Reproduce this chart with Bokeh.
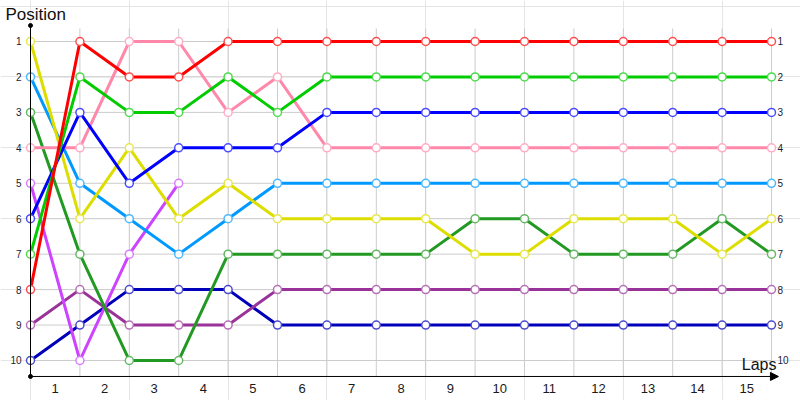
from bokeh.plotting import figure
from bokeh.models import Range1d, FixedTicker, LinearAxis, Label, Arrow, NormalHead
from bokeh.embed import file_html
from bokeh.resources import INLINE

# ---- data ----
laps = list(range(16))                      # 0 = start, 1..15 laps
lap_ticks = laps[1:]                        # tick labels "1".."15" (centred in each lap)
positions = list(range(1, 11))

red = [8, 1, 2, 2, 1, 1, 1, 1, 1, 1, 1, 1, 1, 1, 1, 1]
green = [7, 2, 3, 3, 2, 3, 2, 2, 2, 2, 2, 2, 2, 2, 2, 2]
blue = [6, 3, 5, 4, 4, 4, 3, 3, 3, 3, 3, 3, 3, 3, 3, 3]
pink = [4, 4, 1, 1, 3, 2, 4, 4, 4, 4, 4, 4, 4, 4, 4, 4]
light_blue = [2, 5, 6, 7, 6, 5, 5, 5, 5, 5, 5, 5, 5, 5, 5, 5]
yellow = [1, 6, 4, 6, 5, 6, 6, 6, 6, 7, 7, 6, 6, 6, 7, 6]
dark_green = [3, 7, 10, 10, 7, 7, 7, 7, 7, 6, 6, 7, 7, 7, 6, 7]
violet = [5, 10, 7, 5]
purple = [9, 8, 9, 9, 9, 8, 8, 8, 8, 8, 8, 8, 8, 8, 8, 8]
navy = [10, 9, 8, 8, 8, 9, 9, 9, 9, 9, 9, 9, 9, 9, 9, 9]

series = [
    (navy, "#0000bb"),
    (purple, "#993399"),
    (violet, "#cc44ff"),
    (dark_green, "#229922"),
    (light_blue, "#0099ff"),
    (yellow, "#dddd00"),
    (pink, "#ff88aa"),
    (blue, "#0000ff"),
    (green, "#00cc00"),
    (red, "#ff0000"),
]


def lighten(hex_color, t=0.3):
    r, g, b = (int(hex_color[i:i + 2], 16) for i in (1, 3, 5))
    r, g, b = (round(c + (255 - c) * t) for c in (r, g, b))
    return "#%02x%02x%02x" % (r, g, b)


# ---- layout constants ----
W, H = 800, 400
X0, X1 = -0.6073, 15.587
Y_BOTTOM, Y_TOP = 11.129, -0.1567
AXIS_Y = 10.451
AXIS_TOP = 0.549
GRID_TOP = 0.633
ARROW_END = 15.14
FONT = "Liberation Sans"

p = figure(width=W, height=H, x_range=Range1d(X0, X1), y_range=Range1d(Y_BOTTOM, Y_TOP),
           output_backend="svg", toolbar_location=None, title=None, min_border=0,
           x_axis_location=None, y_axis_location=None)
p.outline_line_color = None
p.background_fill_color = "white"
p.border_fill_color = "white"
p.extra_x_ranges = {"lap": Range1d(X0 + 0.5, X1 + 0.5)}

# grid lines (bounded, drawn as segments from the tick arrays)
p.segment(x0=laps, x1=laps, y0=[GRID_TOP] * len(laps), y1=[AXIS_Y] * len(laps),
          line_color="#cccccc", line_width=1)
p.segment(x0=[laps[0]] * len(positions), x1=[laps[-1]] * len(positions),
          y0=positions, y1=positions, line_color="#cccccc", line_width=1)

# axes
left = LinearAxis(fixed_location=laps[0], ticker=FixedTicker(ticks=positions),
                  bounds=(AXIS_TOP, AXIS_Y), axis_line_color="black", axis_line_width=1,
                  major_tick_in=0, major_tick_out=0, minor_tick_in=0, minor_tick_out=0,
                  major_label_standoff=9, major_label_text_font=FONT,
                  major_label_text_font_size="10px", major_label_text_color="#1a1a33")
p.add_layout(left, "left")

right = LinearAxis(fixed_location=laps[-1], ticker=FixedTicker(ticks=positions),
                   axis_line_color=None, major_tick_in=0, major_tick_out=0,
                   minor_tick_in=0, minor_tick_out=0, major_label_standoff=6,
                   major_label_text_font=FONT, major_label_text_font_size="10px",
                   major_label_text_color="#1a1a33")
p.add_layout(right, "right")

bottom = LinearAxis(x_range_name="lap", fixed_location=AXIS_Y, ticker=FixedTicker(ticks=lap_ticks),
                    axis_line_color=None, major_tick_in=0, major_tick_out=0,
                    minor_tick_in=0, minor_tick_out=0, major_label_standoff=8,
                    major_label_text_font=FONT, major_label_text_font_size="13px",
                    major_label_text_color="#1a1a1a")
p.add_layout(bottom, "below")

p.add_layout(Arrow(end=NormalHead(size=8, fill_color="black", line_color="black"),
                   x_start=laps[0], y_start=AXIS_Y, x_end=ARROW_END, y_end=AXIS_Y,
                   line_color="black", line_width=1))
p.scatter(x=[laps[0], laps[0]], y=[AXIS_TOP, AXIS_Y], size=4, color="black")

# series lines then markers
for vals, col in series:
    p.line(x=laps[:len(vals)], y=vals, line_color=col, line_width=3)
for vals, col in series:
    p.scatter(x=laps[:len(vals)], y=vals, size=8, fill_color="white",
              line_color=lighten(col), line_width=1.5)

p.add_layout(Label(x=X0, y=-0.02, text="Position", text_font=FONT, text_font_size="17px",
                   text_baseline="top", text_color="#111111", x_offset=5))
p.add_layout(Label(x=15.101, y=9.86, text="Laps", text_font=FONT, text_font_size="16px",
                   text_baseline="top", text_align="right", text_color="#111111"))

open("out.html", "w").write(file_html(p, INLINE))
